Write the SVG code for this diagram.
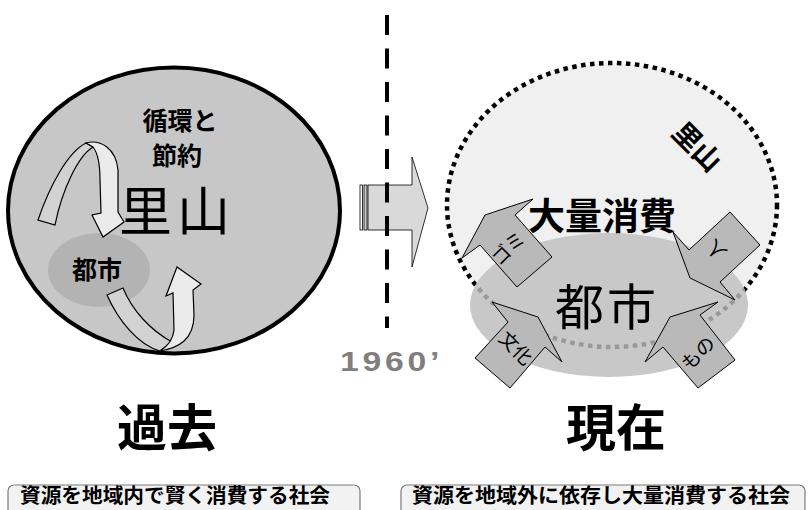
<svg xmlns="http://www.w3.org/2000/svg" width="811" height="510" viewBox="0 0 811 510">
<style>
.jp{font-family:"Noto Sans CJK JP","Noto Sans CJK SC",sans-serif;fill:#000}
.b{font-weight:bold}
.arrowfill{fill:#b9b9b9;stroke:#000;stroke-width:1}
.back{fill:#d2d2d2;stroke:#000;stroke-width:1.2}
.front{fill:#ebebeb;stroke:#000;stroke-width:1.2}
.box{fill:#f2f2f2;stroke:#7a7a7a;stroke-width:1.2}
.atext{font-size:19px}
</style>
<defs>
<clipPath id="cityclip"><ellipse cx="609" cy="305" rx="139" ry="72"/></clipPath>
</defs>
<rect width="811" height="510" fill="#fff"/>

<g id="past">
<ellipse cx="174" cy="210.5" rx="166" ry="143" fill="#c7c7c7" stroke="#000" stroke-width="4"/>
<ellipse cx="99" cy="270" rx="51" ry="37" fill="#b3b3b3"/>
<text class="jp b" x="180" y="130" font-size="25" text-anchor="middle">循環と</text>
<text class="jp b" x="177" y="165" font-size="25" text-anchor="middle">節約</text>
<text class="jp" x="177" y="231" font-size="53" text-anchor="middle" letter-spacing="5">里山</text>
<text class="jp b" x="97" y="279" font-size="25" text-anchor="middle">都市</text>
</g>

<g id="cycle-arrows">
<path class="back" d="M38,220 C50,185 68,152 86,143 L93,147 C78,156 62,190 55,225 Z"/>
<path class="front" d="M86,143 C100,139 116,148 118,170 L118,212 L124,222 L103,237 L92,215 L101,213 L100,180 C100,164 97,152 93,147 Z"/>
<path class="back" d="M107,295 C118,320 138,345 160,351 L172,342 C150,330 132,310 123,288 Z"/>
<path class="front" d="M160,351 C178,348 194,340 194,315 L193,290 L201,284 L177,267 L166,296 L173,293 L174,330 C173,340 168,346 160,351 Z"/>
</g>

<g id="transition-arrow">
<path d="M368,185 L412,185 L412,157 L428,208 L412,267 L412,230 L368,230 Z" fill="#d9d9d9" stroke="#000" stroke-width="0.8"/>
<rect x="360" y="185" width="2.5" height="45" fill="#fff" stroke="#000" stroke-width="0.8"/>
<rect x="364" y="185" width="3" height="45" fill="#ccc" stroke="#000" stroke-width="0.8"/>
</g>

<g id="divider">
<line x1="387" y1="15" x2="387" y2="328" stroke="#000" stroke-width="4" stroke-dasharray="20 13.5"/>
</g>

<g id="year">
<text transform="translate(340,371) scale(1.25,1)" font-family="Liberation Sans, Arial, sans-serif" font-size="27" font-weight="bold" fill="#7f7f7f" letter-spacing="3">1960’</text>
</g>

<g id="present">
<ellipse cx="612" cy="205" rx="165" ry="142" fill="#f0f0f0" stroke="#000" stroke-width="4.5" stroke-dasharray="4.5 4.5"/>
<ellipse cx="609" cy="305" rx="139" ry="72" fill="#c8c8c8"/>
<ellipse cx="612" cy="205" rx="165" ry="142" fill="none" stroke="#999" stroke-width="4.5" stroke-dasharray="4.5 4.5" clip-path="url(#cityclip)"/>
<text class="jp b" font-size="28" text-anchor="middle" transform="translate(690,154) rotate(45)">里山</text>
<text class="jp b" x="602" y="230" font-size="37" text-anchor="middle">大量消費</text>
<text class="jp" x="607" y="325" font-size="49" text-anchor="middle" letter-spacing="3">都市</text>
</g>

<g id="arrow-gomi">
<polygon class="arrowfill" points="533,199 485,215 462,258 480,245 517,287 552,257 515,215"/>
<text class="jp atext" text-anchor="middle" transform="translate(513,253) rotate(-45)">ゴミ</text>
</g>
<g id="arrow-hito">
<polygon class="arrowfill" points="673,232 689,250 730,212 760,245 720,282 735,300 690,278"/>
<text class="jp atext" text-anchor="middle" transform="translate(721,245) rotate(-135)">人</text>
</g>
<g id="arrow-bunka">
<polygon class="arrowfill" points="510,388 475,358 508,322 492,302 538,317 562,362 545,347"/>
<text class="jp atext" text-anchor="middle" transform="translate(511,353) rotate(45)">文化</text>
</g>
<g id="arrow-mono">
<polygon class="arrowfill" points="698,388 663,347 645,362 670,317 718,302 700,315 735,360"/>
<text class="jp atext" text-anchor="middle" transform="translate(703,358) rotate(-45)">もの</text>
</g>

<g id="label-past">
<text class="jp b" x="167" y="446" font-size="50" text-anchor="middle">過去</text>
</g>
<g id="label-present">
<text class="jp b" x="616" y="446" font-size="50" text-anchor="middle">現在</text>
</g>

<g id="box-past">
<rect class="box" x="8" y="485" width="352" height="40" rx="6"/>
<text class="jp b" x="20" y="503" font-size="20" textLength="310" lengthAdjust="spacingAndGlyphs">資源を地域内で賢く消費する社会</text>
</g>
<g id="box-present">
<rect class="box" x="401" y="485" width="404" height="40" rx="6"/>
<text class="jp b" x="412" y="503" font-size="20" textLength="378" lengthAdjust="spacingAndGlyphs">資源を地域外に依存し大量消費する社会</text>
</g>
</svg>
